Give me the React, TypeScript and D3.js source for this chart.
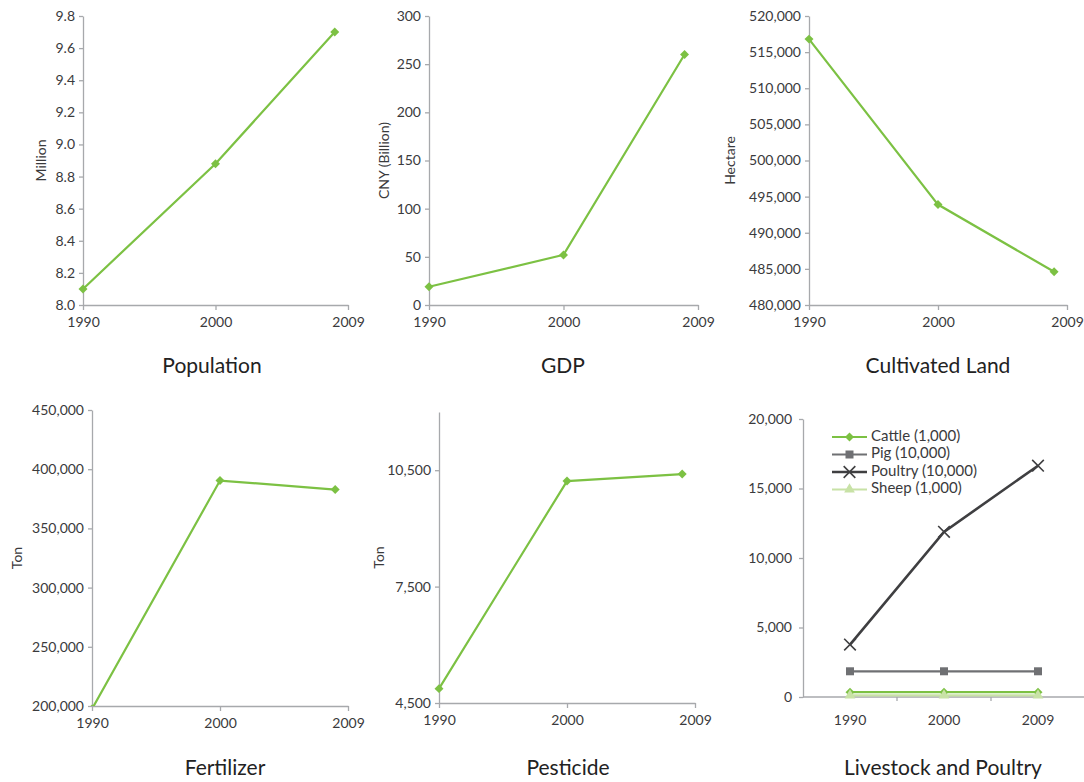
import { useEffect, useRef } from 'react';
import * as d3 from 'd3';

// Years on the x axis (the last tick is labelled 2009 but sits at the end of the axis)
const years = [1990, 2000, 2009];
const yearTickValues = [1990, 2000, 2010];
const yearTickLabels = ['1990', '2000', '2009'];

const populationValues = [8.1, 8.88, 9.7];
const populationTicks = [8.0, 8.2, 8.4, 8.6, 8.8, 9.0, 9.2, 9.4, 9.6, 9.8];

const gdpValues = [19, 52, 260];
const gdpTicks = [0, 50, 100, 150, 200, 250, 300];

const landValues = [516800, 493900, 484600];
const landTicks = [480000, 485000, 490000, 495000, 500000, 505000, 510000, 515000, 520000];

const fertilizerValues = [197500, 390400, 382800];
const fertilizerTicks = [200000, 250000, 300000, 350000, 400000, 450000];

const pesticideValues = [4870, 10220, 10400];
const pesticideTicks = [4500, 7500, 10500];

const livestockCategories = ['1990', '2000', '2009'];
const cattleValues = [350, 350, 350];
const pigValues = [1850, 1850, 1850];
const poultryValues = [3770, 11880, 16640];
const sheepValues = [120, 120, 120];
const livestockTicks = [0, 5000, 10000, 15000, 20000];

const GREEN = '#7cc143';
const LIGHT_GREEN = '#c8e2a6';
const PIG_GRAY = '#6f7073';
const POULTRY = '#3f3f41';
const AXIS = '#a7a9ac';
const TEXT = '#3a3a3c';
const FONT = 'Lato, "Open Sans", sans-serif';

interface PanelSpec {
  id: string;
  title: string;
  yLabel: string;
  values: number[];
  yDomain: [number, number];
  yTicks: number[];
  format: (n: number) => string;
  left: number;
  right: number;
  top: number;
  bottom: number;
  yLabelX: number;
  titleX: number;
  titleY: number;
}

const comma = d3.format(',');

const panels: PanelSpec[] = [
  {
    id: 'pop', title: 'Population', yLabel: 'Million', values: populationValues,
    yDomain: [8.0, 9.8], yTicks: populationTicks, format: d3.format('.1f'),
    left: 83, right: 348, top: 16, bottom: 305, yLabelX: 42, titleX: 212, titleY: 373,
  },
  {
    id: 'gdp', title: 'GDP', yLabel: 'CNY (Billion)', values: gdpValues,
    yDomain: [0, 300], yTicks: gdpTicks, format: comma,
    left: 429, right: 698, top: 16, bottom: 305, yLabelX: 385, titleX: 563, titleY: 373,
  },
  {
    id: 'land', title: 'Cultivated Land', yLabel: 'Hectare', values: landValues,
    yDomain: [480000, 520000], yTicks: landTicks, format: comma,
    left: 809, right: 1067, top: 16, bottom: 305, yLabelX: 731, titleX: 938, titleY: 373,
  },
  {
    id: 'fert', title: 'Fertilizer', yLabel: 'Ton', values: fertilizerValues,
    yDomain: [200000, 450000], yTicks: fertilizerTicks, format: comma,
    left: 92, right: 348, top: 410, bottom: 706, yLabelX: 18, titleX: 225, titleY: 775,
  },
  {
    id: 'pest', title: 'Pesticide', yLabel: 'Ton', values: pesticideValues,
    yDomain: [4500, 12000], yTicks: pesticideTicks, format: comma,
    left: 439, right: 695, top: 412, bottom: 703, yLabelX: 380, titleX: 568, titleY: 775,
  },
];

interface SeriesSpec {
  name: string;
  values: number[];
  color: string;
  width: number;
  symbol: d3.SymbolType;
  size: number;
  rotate: number;
  stroked: boolean;
}

const livestockSeries: SeriesSpec[] = [
  { name: 'Cattle (1,000)', values: cattleValues, color: GREEN, width: 2.2, symbol: d3.symbolSquare, size: 40, rotate: 45, stroked: false },
  { name: 'Pig (10,000)', values: pigValues, color: PIG_GRAY, width: 2.2, symbol: d3.symbolSquare, size: 64, rotate: 0, stroked: false },
  { name: 'Poultry (10,000)', values: poultryValues, color: POULTRY, width: 2.6, symbol: d3.symbolTimes, size: 90, rotate: 0, stroked: true },
  { name: 'Sheep (1,000)', values: sheepValues, color: LIGHT_GREEN, width: 2.2, symbol: d3.symbolTriangle, size: 50, rotate: 0, stroked: false },
];

function styleAxis(sel: d3.Selection<SVGGElement, unknown, null, undefined>, fontSize: number) {
  sel.select('.domain').attr('stroke', AXIS).attr('stroke-width', 1.3);
  sel.selectAll('.tick line').attr('stroke', AXIS).attr('stroke-width', 1.3);
  sel.selectAll('.tick text')
    .attr('fill', TEXT)
    .attr('font-size', fontSize)
    .attr('font-family', FONT);
}

export default function App() {
  const svgRef = useRef<SVGSVGElement>(null);

  useEffect(() => {
    if (!svgRef.current) return;
    const svg = d3.select(svgRef.current);
    svg.selectAll('*').remove();
    const defs = svg.append('defs');

    panels.forEach((p) => {
      const g = svg.append('g');
      const x = d3.scaleLinear().domain([1990, 2010]).range([p.left, p.right]);
      const y = d3.scaleLinear().domain(p.yDomain).range([p.bottom, p.top]);

      // plot area clip: open to the left and top, closed at the x axis
      defs.append('clipPath').attr('id', `clip-${p.id}`)
        .append('rect')
        .attr('x', p.left - 12).attr('y', p.top - 12)
        .attr('width', p.right - p.left + 24)
        .attr('height', p.bottom - p.top + 12);

      // Y axis
      const ya = g.append('g')
        .attr('transform', `translate(${p.left},0)`)
        .call(d3.axisLeft(y).tickValues(p.yTicks).tickFormat((d) => p.format(d as number)).tickSize(4).tickSizeOuter(0).tickPadding(4));
      styleAxis(ya, 14);

      // X axis
      const xa = g.append('g')
        .attr('transform', `translate(0,${p.bottom})`)
        .call(d3.axisBottom(x).tickValues(yearTickValues).tickFormat((_, i) => yearTickLabels[i]).tickSize(5).tickSizeOuter(0).tickPadding(7));
      styleAxis(xa, 14);

      const plot = g.append('g').attr('clip-path', `url(#clip-${p.id})`);
      const line = d3.line<number>()
        .x((_, i) => x(years[i]))
        .y((d) => y(d));
      plot.append('path')
        .attr('d', line(p.values) ?? '')
        .attr('fill', 'none')
        .attr('stroke', GREEN)
        .attr('stroke-width', 2.2);

      plot.selectAll('path.marker')
        .data(p.values)
        .join('path')
        .attr('class', 'marker')
        .attr('d', d3.symbol(d3.symbolSquare, 40)() ?? '')
        .attr('transform', (d, i) => `translate(${x(years[i])},${y(d)}) rotate(45)`)
        .attr('fill', GREEN);

      // Y label
      g.append('text')
        .attr('transform', `translate(${p.yLabelX},${(p.top + p.bottom) / 2}) rotate(-90)`)
        .attr('text-anchor', 'middle')
        .attr('dominant-baseline', 'middle')
        .attr('fill', TEXT)
        .attr('font-size', 14)
        .attr('font-family', FONT)
        .text(p.yLabel);

      // Title
      g.append('text')
        .attr('x', p.titleX)
        .attr('y', p.titleY)
        .attr('text-anchor', 'middle')
        .attr('fill', '#222')
        .attr('font-size', 21)
        .attr('font-family', FONT)
        .text(p.title);
    });

    // Livestock and Poultry panel
    const lg = svg.append('g');
    const left = 803, right = 1085, top = 419, bottom = 697;
    const xb = d3.scaleBand().domain(livestockCategories).range([left, right]);
    const y = d3.scaleLinear().domain([0, 20000]).range([bottom, top]);
    const cx = (i: number) => (xb(livestockCategories[i]) ?? 0) + xb.bandwidth() / 2;

    const ya = lg.append('g')
      .attr('transform', `translate(${left},0)`)
      .call(d3.axisLeft(y).tickValues(livestockTicks).tickFormat((d) => comma(d as number)).tickSize(4).tickSizeOuter(0).tickPadding(7));
    styleAxis(ya, 14);

    const xa = lg.append('g')
      .attr('transform', `translate(0,${bottom})`)
      .call(d3.axisBottom(xb).tickSize(0).tickSizeOuter(0).tickPadding(18));
    styleAxis(xa, 14);
    xa.select('.domain').attr('d', `M${left},0H${right}`);
    // ticks between categories
    xa.selectAll('line.between')
      .data(livestockCategories.slice(1))
      .join('line')
      .attr('class', 'between')
      .attr('x1', (d) => xb(d) ?? 0)
      .attr('x2', (d) => xb(d) ?? 0)
      .attr('y1', 0)
      .attr('y2', 4)
      .attr('stroke', AXIS)
      .attr('stroke-width', 1.3);

    livestockSeries.forEach((s) => {
      const line = d3.line<number>().x((_, i) => cx(i)).y((d) => y(d));
      lg.append('path')
        .attr('d', line(s.values) ?? '')
        .attr('fill', 'none')
        .attr('stroke', s.color)
        .attr('stroke-width', s.width);
      lg.selectAll(null)
        .data(s.values)
        .join('path')
        .attr('d', d3.symbol(s.symbol, s.size)() ?? '')
        .attr('transform', (d, i) => `translate(${cx(i)},${y(d)}) rotate(${s.rotate})`)
        .attr('fill', s.stroked ? 'none' : s.color)
        .attr('stroke', s.stroked ? s.color : 'none')
        .attr('stroke-width', s.stroked ? 1.6 : 0);
    });

    // Legend
    const legend = lg.append('g').attr('transform', 'translate(832,437)');
    livestockSeries.forEach((s, i) => {
      const row = legend.append('g').attr('transform', `translate(0,${i * 17.5})`);
      row.append('line')
        .attr('x1', 0).attr('x2', 35).attr('y1', 0).attr('y2', 0)
        .attr('stroke', s.color)
        .attr('stroke-width', s.width);
      row.append('path')
        .attr('d', d3.symbol(s.symbol, s.size)() ?? '')
        .attr('transform', `translate(17.5,0) rotate(${s.rotate})`)
        .attr('fill', s.stroked ? 'none' : s.color)
        .attr('stroke', s.stroked ? s.color : 'none')
        .attr('stroke-width', s.stroked ? 1.6 : 0);
      row.append('text')
        .attr('x', 39)
        .attr('y', 0)
        .attr('dominant-baseline', 'middle')
        .attr('fill', TEXT)
        .attr('font-size', 15)
        .attr('font-family', FONT)
        .text(s.name);
    });

    lg.append('text')
      .attr('x', 943)
      .attr('y', 775)
      .attr('text-anchor', 'middle')
      .attr('fill', '#222')
      .attr('font-size', 21)
      .attr('font-family', FONT)
      .text('Livestock and Poultry');
  }, []);

  return (
    <svg
      ref={svgRef}
      width={1084}
      height={782}
      style={{ position: 'absolute', left: 0, top: 0, background: '#fff' }}
    />
  );
}
